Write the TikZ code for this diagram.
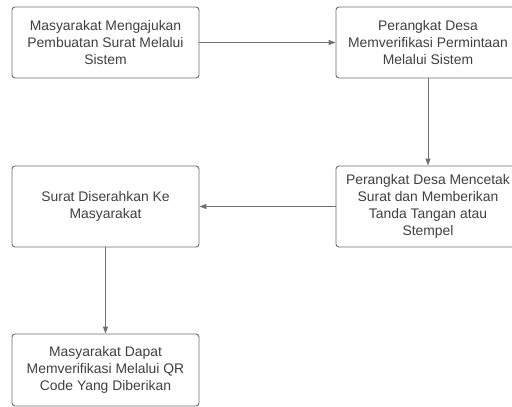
\documentclass[tikz,border=0pt]{standalone}
\usepackage{fontspec}
\setmainfont{Liberation Sans}
\usetikzlibrary{arrows.meta}
\definecolor{boxline}{HTML}{6E6E6E}
\definecolor{txt}{HTML}{404040}
\definecolor{conn}{HTML}{707070}
\begin{document}
\begin{tikzpicture}[x=1pt,y=-1pt,
  box/.style={draw=boxline,line width=0.9pt,rounded corners=3pt,fill=white,
    minimum width=187pt,inner sep=2pt,align=center,text=txt,
    font=\fontsize{13.9}{16.8}\selectfont},
  conn/.style={draw=conn,line width=0.9pt,-{Triangle[length=7pt,width=5pt]}}]
\useasboundingbox (0,0) rectangle (512,407);
\clip (0,0) rectangle (512,407);
\node[box,minimum height=71pt] (a) at (105.5,42.5) {Masyarakat Mengajukan\\Pembuatan Surat Melalui\\Sistem};
\node[box,minimum height=71pt,minimum width=184pt] (b) at (428,42.5) {Perangkat Desa\\Memverifikasi Permintaan\\Melalui Sistem};
\node[box,minimum height=81pt,minimum width=184pt] (c) at (428,206.5) {Perangkat Desa Mencetak\\Surat dan Memberikan\\Tanda Tangan atau\\Stempel};
\node[box,minimum height=81pt] (d) at (105.5,206.5) {Surat Diserahkan Ke\\Masyarakat};
\node[box,minimum height=72pt] (e) at (105.5,370) {Masyarakat Dapat\\Memverifikasi Melalui QR\\Code Yang Diberikan};
\draw[conn] (a.east) -- (b.west);
\draw[conn] (b.south) -- (c.north);
\draw[conn] (c.west) -- (d.east);
\draw[conn] (d.south) -- (e.north);
\end{tikzpicture}
\end{document}
